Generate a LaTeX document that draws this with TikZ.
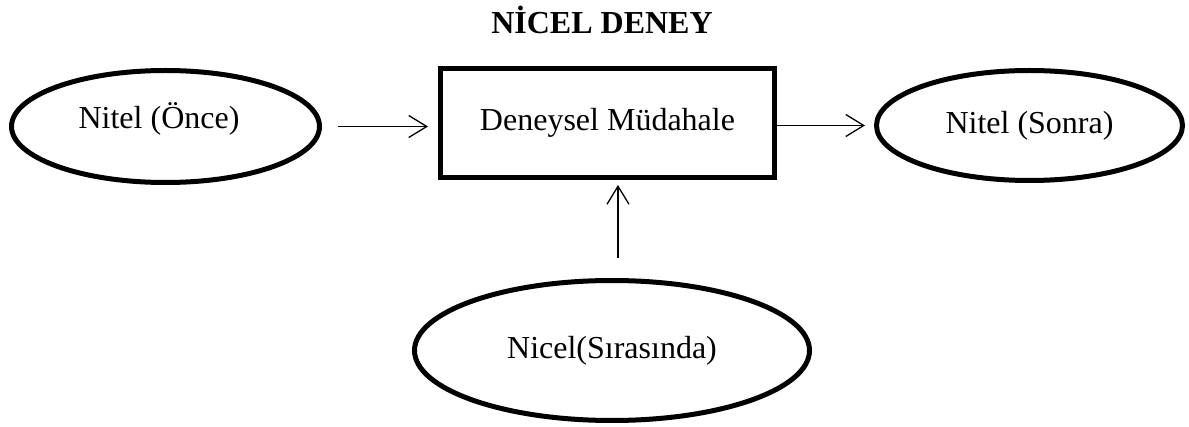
\documentclass[tikz,border=0pt]{standalone}
\usepackage{fontspec}
\setmainfont{Liberation Serif}
\usepackage{tikz}
\usetikzlibrary{arrows.meta}
\tikzset{edge/.style = {-{Straight Barb[length=9pt,width=11pt]}, line width=0.65pt}}
\usetikzlibrary{shapes.geometric}
\tikzset{oval/.style = {draw, ellipse, line width=2.5pt, inner sep=0pt}}

\begin{document}
\begin{tikzpicture}[x=0.5pt,y=-0.5pt]
        \newcommand{\tsize}{\fontsize{16}{19}\selectfont}

        % Centres
        \newcommand{\pa}{(165.5,126.5)}
        \newcommand{\pb}{(607.5,123)}
        \newcommand{\pc}{(1029.5,125.5)}
        \newcommand{\pd}{(612,350.5)}

        % Text baselines
        \newcommand{\ba}{(159,129)}
        \newcommand{\bt}{(602,34)}

        \useasboundingbox (0,0) rectangle (1189,427);

        \node[font=\tsize\bfseries, anchor=base] (baslik) at \bt {NİCEL DENEY};

        \node[oval, minimum width=154pt, minimum height=56pt] (once) at \pa {};
        \node[font=\tsize, anchor=base] (oncetext) at \ba {Nitel (Önce)};
        \node[draw, line width=2.5pt, minimum width=167pt, minimum height=54.5pt, font=\tsize] (mudahale) at \pb {Deneysel Müdahale};
        \node[oval, minimum width=153pt, minimum height=55pt, font=\tsize] (sonra) at \pc {Nitel (Sonra)};
        \node[oval, minimum width=197.5pt, minimum height=70pt, font=\tsize] (nicel) at \pd {Nicel(Sırasında)};

        \draw[edge] ([xshift=8pt]once.east) -- ([xshift=-5pt]once.east -| mudahale.west);
        \draw[edge] (sonra.west -| mudahale.east) -- ([xshift=-4.5pt]sonra.west);
        \draw[edge, shorten >=2.5pt] ([xshift=3pt,yshift=10pt]nicel.north) -- ([xshift=3pt]nicel.north |- mudahale.south);
    \end{tikzpicture}
\end{document}
